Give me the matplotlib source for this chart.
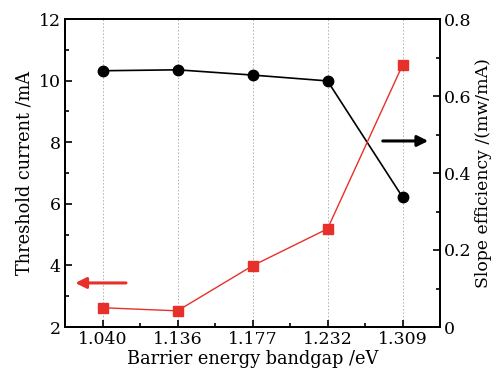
import matplotlib.pyplot as plt

plt.rcParams["font.family"] = ["DejaVu Serif"]

bandgap = ["1.040", "1.136", "1.177", "1.232", "1.309"]
threshold = [10.32, 10.35, 10.18, 9.99, 6.22]
slope_eff = [0.050, 0.042, 0.159, 0.255, 0.680]

RED = "#e8302a"

fig = plt.figure(figsize=(4.96, 3.78), dpi=100)
ax = fig.add_axes([65 / 496, 1 - 327 / 378, 375 / 496, 308 / 378])
ax2 = ax.twinx()

pos = list(range(len(bandgap)))
for p in pos:
    ax.axvline(p, color="#b0b0b0", linestyle=(0, (1.5, 2)), linewidth=0.7, zorder=0)

ax.plot(pos, threshold, color="black", marker="o", markersize=7.5, linewidth=1.2, zorder=3)
ax2.plot(pos, slope_eff, color=RED, marker="s", markersize=6.5, linewidth=1.0,
         markerfacecolor=RED, markeredgecolor=RED, zorder=3)

ax.set_xlim(-0.5, 4.5)
ax.set_ylim(2, 12)
ax2.set_ylim(0, 0.8)
ax.set_xticks(pos)
ax.set_xticklabels(bandgap)
ax.set_xticks([p + 0.5 for p in pos[:-1]], minor=True)
ax.set_yticks([2, 4, 6, 8, 10, 12])
ax.set_yticks([3, 5, 7, 9, 11], minor=True)
ax2.set_yticks([0, 0.2, 0.4, 0.6, 0.8])
ax2.set_yticklabels(["0", "0.2", "0.4", "0.6", "0.8"])
ax2.set_yticks([0.1, 0.3, 0.5, 0.7], minor=True)

for a in (ax, ax2):
    a.tick_params(which="both", direction="in", width=1.2, labelsize=12.5, pad=3)
    a.tick_params(which="major", length=5)
    a.tick_params(which="minor", length=3)
    for s in a.spines.values():
        s.set_linewidth(1.4)
ax.tick_params(axis="x", which="both", top=False)

ax.set_xlabel("Barrier energy bandgap /eV", fontsize=12.8, labelpad=1)
ax.set_ylabel("Threshold current /mA", fontsize=12.8, labelpad=4)
ax2.set_ylabel("Slope efficiency /(mw/mA)", fontsize=12.4, labelpad=2)

# direction arrows pointing to each axis
ax.annotate("", xy=(-0.4, 3.43), xytext=(0.35, 3.43),
            arrowprops=dict(arrowstyle="-|>", color=RED, lw=2.2, mutation_scale=16))
ax.annotate("", xy=(4.38, 8.04), xytext=(3.7, 8.04),
            arrowprops=dict(arrowstyle="-|>", color="black", lw=2.2, mutation_scale=16))

fig.savefig("out.png", dpi=100)
